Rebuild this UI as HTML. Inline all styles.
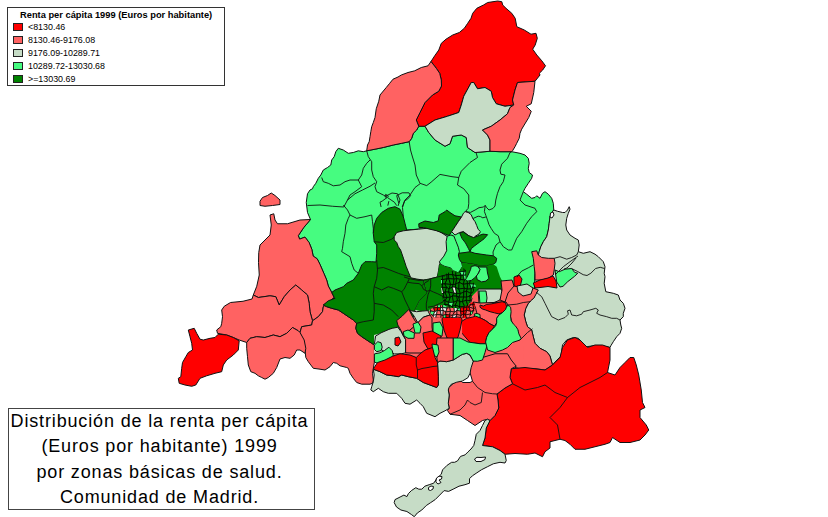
<!DOCTYPE html>
<html><head><meta charset="utf-8"><style>
html,body{margin:0;padding:0;background:#fff;}
body{width:828px;height:517px;overflow:hidden;position:relative;font-family:"Liberation Sans",sans-serif;}
#map{position:absolute;left:0;top:0;}
#leg{position:absolute;left:7px;top:7px;width:216px;height:77px;border:1px solid #333;background:#fff;}
#leg .t{position:absolute;left:12px;top:2px;font-weight:bold;font-size:9.3px;white-space:nowrap;color:#000;}
#leg .r{position:absolute;left:5px;height:8px;width:10px;}
#leg .r i{position:absolute;left:0;top:0;width:8px;height:6px;border:1px solid #222;}
#leg .r span{position:absolute;left:15px;top:-1px;font-size:8.9px;white-space:nowrap;color:#000;}
#box{position:absolute;left:8px;top:408px;width:305px;height:100px;border:1px solid #444;background:#fff;}
#box div{position:absolute;left:0;width:301px;text-align:center;font-size:18px;letter-spacing:0.85px;white-space:nowrap;color:#000;}
</style></head><body>
<svg id="map" width="828" height="517" viewBox="0 0 828 517">
<g stroke="#111" stroke-width="1" stroke-linejoin="round">
<polygon fill="#46fc80" points="338.3,148.3 343.3,150 348.3,153.3 353.3,152.5 358.3,150.8 363.3,151.7 366.7,150.8 375,149.2 383.3,147.5 393.3,145 401.7,143.3 409.2,141.7 411.7,138.3 413.3,133.3 416.7,130 418.75,126.25 425,126.25 428.75,132.5 435,140 445,146.25 450,143.75 452.5,136.25 461.25,135 466.25,137.5 467.5,147.5 475,152.5 490,151.25 500,151.7 511.7,151.7 520,153.3 525,155 528.3,158.3 529.2,163.3 528.3,168.3 529.2,172.5 532.5,175 531.7,178.3 528.3,183.3 525,188.3 523.3,191.7 526.7,194.2 531.7,198.3 535,197.5 536.7,195.8 540,198.3 542.5,193.3 545,191.7 548.3,194.2 551.7,198.3 553.3,203.3 553.75,210 551.7,212.5 550,216.7 549.2,223.3 548.3,230 546.7,236.7 543.3,241.7 540.8,246.7 539.2,251.7 536,270 537,290 505,300 440,300 380,290 350,286 331.75,292.5 328.3,286 326.7,280 324,273.7 319.9,264.2 317.2,258.8 313.2,256.1 311.8,249.3 309.1,242.5 305,237.1 299.6,239.1 298.3,235.7 303.7,227.6 310.5,219.5 307.5,212.5 306.25,202.5 307.5,193.75 310,190 312.5,188.75 313.3,186.7 315.8,183.3 318.3,178.3 320.8,175 323.3,170 327.5,167.5 330.8,165 331.7,160 334.2,156.7 335.8,151.7"/>
<polygon fill="#ff0000" points="497.7,1 501.8,1.7 502.7,5 506,8.3 511.8,13.3 515.2,18.3 516.8,26.7 524.3,30 531,34.2 536,33.3 537.3,38.3 535.2,45 532.7,49.2 536.8,55 541.8,60.8 545.5,65.8 542.7,70 539.3,73.3 540,75 535,81.25 517.5,82.5 515,90 512.5,100 513.75,105 505,106.25 496.25,103.75 492.5,97.5 491.25,91.25 485,87.5 477.5,88.75 473.75,82.5 471.25,82.5 463.75,96.25 461.25,105 458.75,112.5 447.5,116.25 435,120 425,126.25 418.75,126.25 416.25,120 420,112.5 425,102.5 432.5,95 438.75,91.25 441.5,86 441.3,80 439.7,73.3 436.3,68.3 431,61.5 434.7,55.8 438.8,50 441.3,43.3 446,39.2 452.7,35 459.3,32.5 464.3,28.3 467.7,23.3 471,18.3 472.7,13.3 476.8,8.3 483.5,5 487.7,2.5"/>
<polygon fill="#ff6262" points="431,61.5 428,65.8 421.3,67.5 414.7,70.8 408,72.5 401.3,75 398,77 393,79.2 389.7,83.3 386.25,87.5 380,95 378.75,101.25 376.25,108.75 375,117.5 373.3,122.5 371.7,126.7 370.8,131.7 370,136.7 369.2,141.7 367.5,145 366.7,150.8 375,149.2 383.3,147.5 393.3,145 401.7,143.3 409.2,141.7 411.7,138.3 413.3,133.3 416.7,130 418.75,126.25 416.25,120 420,112.5 425,102.5 432.5,95 438.75,91.25 441.5,86 441.3,80 439.7,73.3 436.3,68.3"/>
<polygon fill="#c6dcc6" points="425,126.25 435,120 447.5,116.25 458.75,112.5 461.25,105 463.75,96.25 471.25,82.5 473.75,82.5 477.5,88.75 485,87.5 491.25,91.25 492.5,97.5 496.25,103.75 505,106.25 513.75,105 510,107.5 507.5,113.75 500,120 491.25,126.25 482.5,130 487.5,135 490,140 490,151.25 475,152.5 467.5,147.5 466.25,137.5 461.25,135 452.5,136.25 450,143.75 445,146.25 435,140 428.75,132.5"/>
<polygon fill="#ff6262" points="517.5,82.5 535,81.25 533.75,92.5 531.25,103.75 526.25,106.25 531.25,111.25 528.75,117.5 524.2,125 521.7,129.2 520,133.3 519.2,138.3 516.7,143.3 515,146.7 512.5,150.8 511.7,151.7 500,151.7 490,151.25 490,140 487.5,135 482.5,130 491.25,126.25 500,120 507.5,113.75 510,107.5 513.75,105 512.5,100 515,90"/>
<polygon fill="#c6dcc6" points="553.75,210 557.5,211.25 562.5,212.5 565,212.5 567.5,210 569.2,206.7 570,209.2 568.3,213.3 566.7,218.3 565.8,225 566.7,230 570,235 575,238.3 578.3,240 579.2,245 578.3,251.7 583.3,253.3 590,251.7 595,254.2 598.3,256.7 603.3,261.7 605,266.7 604.2,273.3 605,276.7 604.2,283.3 605.8,291.7 613.3,293.3 618.3,295 620,300 623.3,303.3 625,308.3 623.3,313.3 623.3,316.7 620,320 620.8,325 621.7,328.3 620,333.3 616.7,336.7 613.3,341.7 610.8,345.8 610,347.5 606.7,346.7 600,345.8 593.3,345.8 586.7,346.7 583.3,343.3 578.3,338.3 573.3,337.5 566.7,340 562.5,345 561,356 555,362 552.5,365 550,356 546.7,351.7 540,348.3 535,343.3 533.3,336.7 531.7,330 527.5,326.7 525.8,321.7 524.2,315 525.8,308.3 528.3,303.3 531.7,300 534.2,297.5 535,270 539.2,251.7 540.8,246.7 543.3,241.7 546.7,236.7 548.3,230 549.2,223.3 550,216.7 551.7,212.5"/>
<polygon fill="#ff6262" points="531.7,251.7 536.7,250.8 538.3,255 541.7,257.5 548.3,258.3 554.2,258.3 555,263.3 554.2,270 553.3,275 548.3,278.3 541.7,280 535,280 535,273.3 534.2,266.7 533.3,258.3"/>
<polygon fill="#46fc80" points="555,270 559.2,271.7 565,269.2 571.6,268.5 574.7,272.4 577.8,273.2 574.7,276.2 567.7,281.7 563,286.3 560,287 556.7,282"/>
<polygon fill="#ff6262" points="500,287 512,285 520,287 533,288 538.3,290 534.2,297.5 531.7,300 528.3,303.3 525.8,308.3 524.2,315 525.8,321.7 527.5,326.7 531.7,330 533.3,336.7 535,343.3 540,348.3 546.7,351.7 550,356 552.5,365 545,370 535,368.75 525,370 515,367.5 511.25,360 507.5,353.75 510,350 517.5,345 520,340 520,332.5 512.5,325 510,315 507.5,305 500,300"/>
<polygon fill="#ff0000" points="533.3,283 540,280 548,278 553,276 556,281 557,288 548,286.5 540,287.5 535,288"/>
<polygon fill="#ff0000" points="514,277 519,275 522,279 520,287 514,286"/>
<polygon fill="#c6dcc6" points="517,286 527,284 533,288 531,294 523,296 518,292"/>
<polygon fill="#ff6262" stroke="none" points="478,338 522,330 524,362 478,364"/>
<polygon fill="#ff0000" points="511.25,368.75 525,367.5 535,368.75 545,370 552.5,365 560,357.5 562.5,347.5 567.5,340 575,337.5 580,340 587.5,347.5 595,345 602.5,345 610,347.5 610,360 607.5,372.5 615,375 620,367.5 625,362.5 630,357.5 633.75,357.5 636.25,365 638.75,375 641.25,390 642.5,402.5 645,407.5 640,410 640,417.5 646.25,425 648.75,430 645,435 640,440 630,442.5 620,442.5 612.5,437.5 610,442.5 605,444.25 595,446.75 585,449.25 575,449.25 570,444.25 565,440.5 560,439.25 550,441.75 550,448 545,451.75 542.5,456.75 535,453 527.5,454.25 515,453.5 505,454.25 500,450.5 492.5,446.75 482.5,445.5 485,438 486.25,428 490,420.5 495,415.5 498.75,408 498,400 497,394 505,388 512.5,383.75 510,377.5"/>
<polygon fill="#ff6262" points="447.5,386 450,386.7 453.3,383.3 460,380 462.5,382.5 470,382.5 472.5,381.25 470,372.5 470,365 475,360 482.5,357.5 495,353.75 507.5,353.75 511.25,360 516.25,366.25 511.25,368.75 510,377.5 512.5,383.75 505,388 497,394 498,400 498.75,408 495,415.5 490,420.5 487.5,419.25 482.5,420.5 475,425.5 467.5,420.5 460,415.5 450,414.25 447.5,410.5 449.2,408.3 448.3,403.3 449.2,395 448.3,390"/>
<polygon fill="#c6dcc6" points="373.3,369.2 380,371.7 386.7,375 393.3,375.8 398.3,376.7 401.7,375 408.3,376.7 416.7,378.3 423.3,382.5 430,385 436.7,387.5 438.3,385 438.3,376.7 437.5,362.5 440,361 446.7,361.7 453.3,360 462.2,354.4 466.7,353.3 470,355 473.3,361.1 471.1,367.8 470,373.3 467.8,377.8 462.2,381.1 456.7,382.2 451.1,384.4 448.9,387.8 448.3,390 449.2,395 448.3,403.3 449.2,408.3 445,410.8 440,413.3 435,416.7 426.7,413.3 423.3,406.7 420,403.3 416.7,400 410,404.2 405,403.3 401.7,398.3 396.7,393.3 388.3,393.3 383.3,391.7 378.3,388.3 373.3,391.7 370.8,390 371.7,386.7 373.3,381.7 374.2,375"/>
<polygon fill="#c6dcc6" points="487.5,419.25 485,420.5 482.5,425.5 480,430.5 476.25,434.25 475,440.5 473.75,445.5 471,449 468,451.9 465,454.9 460.5,456.4 457.5,460.9 454.6,462.3 451.6,462.3 447.1,465.3 442.6,469.8 441.2,474.3 436.7,478.7 433.7,483.2 429.2,484.7 424.8,486.2 421.8,489.2 418.8,489.2 415.8,487.7 411.4,490.6 408.4,493.6 406.9,496.6 403.9,495.1 400.9,496.6 398,498.1 395,499.6 394.2,502.6 396.5,507 400.9,510 406.9,511.5 411.4,514.5 414.3,516.7 417.3,513 421.8,510 426.3,505.5 430.7,502.6 435.2,499.6 439.7,495.1 444.1,490.6 448.6,491.4 453.1,489.2 459,486.2 465,484.7 469.5,483.2 469.5,478.7 472.4,475.8 476.9,472.8 481.4,469.8 487.3,466.8 493.3,463.8 500,462.3 505,463 506.25,460.5 505,454.25 500,450.5 492.5,446.75 482.5,445.5 485,438 486.25,428 490,420.5"/>
<polygon fill="#fff" points="474.5,459 477,457.3 481,457.5 485.5,457 485,459.5 481,461.5 476,461.5"/>
<polygon fill="#fff" points="436.5,478 439,476.2 442,476.5 441.5,479 439,480 441,482.5 438,484 435.8,482"/>
<polygon fill="#fff" points="428.5,487.5 431,486 433.5,486.5 433,489 430.5,490.5 428.5,489.8"/>
<polygon fill="#ff6262" points="270,215 273.75,213.75 275,220 277.5,223.75 287.5,223.75 300,220 310.5,219.5 303.7,227.6 298.3,235.7 299.6,239.1 305,237.1 309.1,242.5 311.8,249.3 313.2,256.1 317.2,258.8 319.9,264.2 324,273.7 326.7,280 328.3,286 331.75,292.5 334.25,297.5 330,301.7 323.3,306.7 322.5,311.7 318.3,316.7 312.5,320.8 310,311.7 309.2,303.3 307.5,295 301.7,290 295.8,285 290,290 284.2,296.7 279.2,305 275.8,296.7 270,295.8 258.3,297.5 253.3,295 256.75,286.25 259.25,275 258.5,262.5 258.75,252.5 260,245 265,240 270,235 271.25,225"/>
<polygon fill="#ff6262" points="253.3,295 258.3,297.5 270,295.8 275.8,296.7 279.2,305 284.2,296.7 290,290 295.8,285 301.7,290 307.5,295 309.2,303.3 310,311.7 312.5,320.8 311.7,325 301.7,326.7 300,332.5 298.3,330.8 292.5,327.5 286.7,333.3 280,336.7 273.3,335 265,337.5 256.7,336.7 250,338.3 246.7,342.5 239.2,340 233.3,337.5 226.7,335 217.5,333.3 216.7,330 220.8,326.7 221.7,323.3 222.5,316.7 221.7,310 224.25,306.25 230.5,302.5 243,301.25 252,299"/>
<polygon fill="#ff6262" points="334.25,297.5 330,301.7 323.3,305 326.7,306.7 331.7,308.3 338.3,310 343.3,313.3 348.3,316.7 353.3,320 356.7,323.3 355.8,328.3 357.5,333.3 361.7,336.7 366.7,340 371.7,343.3 374.4,345 374.4,362 372.5,373.3 373.3,380 372.5,383.3 370,384.2 361.7,384.2 356.7,382.5 353.3,378.3 350,373.3 348.3,368.3 346.7,367.5 340,365.8 336.7,363.3 333.3,362.5 330,366.7 325,370 320,369.2 313.3,368.3 310.8,365 308.3,361.7 305.8,357.5 305,350 303.3,341.7 300.8,335 300,332.5 301.7,326.7 311.7,325 312.5,320.8 318.3,316.7 322.5,311.7 323.3,306.7"/>
<polygon fill="#ff6262" points="246.7,342.5 250,338.3 256.7,336.7 265,337.5 273.3,335 280,336.7 286.7,333.3 292.5,327.5 298.3,330.8 300,332.5 304.2,340 305.8,348.3 305,353.3 300,350 296.7,350 294.2,355 290,358.3 285,357.5 280,359 276.7,367.5 273.3,373.3 268.3,377.5 265,379.2 261.7,377.5 258.3,375.8 255,373.3 250.8,371.7 248.3,365 247.5,356.7 246.7,348.3"/>
<polygon fill="#ff0000" points="188.3,330 194.2,328.3 196.7,333.3 200,339.2 203.3,340 210,338.3 215,337.5 218.3,334.2 226.7,335 233.3,337.5 239.2,340.8 238.3,350 233.3,355 226.7,360 223.3,365 221.7,371.7 215,373.3 206.7,375.8 200,378.3 195.8,385 191.7,386.3 185,385 179.2,383.3 178.3,378.3 180.8,376.7 181.7,368.3 182.5,362.5 185.8,356.7 188.3,352.5 192.5,350 191.7,343.3 190,336.7"/>
<polygon fill="#ff6262" points="260,201.25 262.5,197.5 267.5,195.5 271.25,193 275,195.5 280,200 280,204.5 272.5,205.5 265,206.25 260,205.5"/>
<polygon fill="#008200" points="334.25,297.5 331.75,292.5 335,290 343.3,286.7 346.7,283.3 353.3,280 358.3,273.3 361.7,265 365,261.7 371.7,261.7 376,262 376.7,253.3 376.7,245 374.2,241.7 373.3,233.3 374.2,225 376.7,218.3 381.7,212.5 388.3,208.3 395,206.7 400,209.2 403.3,216.7 405,223.3 406.7,230 420,229 440,231 446,240 445,260 440,268 436.7,273.3 430,278.3 423.3,280 427,293 420,300 415,310 410,330 400,335 390,330 375,336 374.4,345 371.7,343.3 366.7,340 361.7,336.7 357.5,333.3 355.8,328.3 356.7,323.3 353.3,320 348.3,316.7 343.3,313.3 338.3,310 331.7,308.3 326.7,306.7 323.3,305 328.3,300.8 335,298.3"/>
<polygon fill="#c6dcc6" points="394.2,236.7 396.7,232.5 403.3,230.8 410,230 418.3,229.2 426.7,228.3 433.3,229.2 440,231.7 445,235 448.75,237.5 447.5,245 446.7,255.4 442.7,259.5 439.3,264.9 438.6,270.3 437.2,277.1 430.5,278.7 423.7,280.1 416.9,279.1 410.8,277.8 408.8,273 406.1,266.3 403.4,258.1 400.6,250 398.3,246.7 396.7,242.5 394.2,240"/>
<polygon fill="#008200" points="418.75,223.75 425,221 433.3,222.5 438.3,220.8 439.2,215 445,211.7 446.7,210 450,212.5 455,215.8 461.5,217 458.3,221.7 455,226.7 451.7,231.7 449,235.5 443.3,233.3 436.7,230.8 430,229.2 423.3,227.5 419,227.5"/>
<polygon fill="#c6dcc6" points="461.5,217 463.5,213.1 465.1,211.6 468.1,212.4 471.2,214.7 472.8,218.6 475.1,221.7 476.7,225.5 478.2,229.4 480.5,231.7 479,234 475.1,236.3 473.6,238.7 470.5,237.1 466.6,234 463.5,231.7 459.6,232.5 455,235 451.7,231.7 455,226.7 458.3,221.7"/>
<polygon fill="#008200" points="459.7,233 463.2,231.8 467.9,235.3 473.7,237.6 479.5,235.3 483,234.1 487.6,234.7 484.1,238.8 479.5,242.2 474.8,245.7 471.4,248.5 470,251.7 468.3,248.3 465.5,243 462.1,238.6"/>
<polygon fill="#008200" points="458.3,253.3 465,252.5 470,251.7 475,253.3 486.7,255 493.3,255.8 496.7,258.3 495.8,262.5 493.3,264.2 486.7,265.8 480,265.8 473.3,264.2 466.7,263.3 461.7,262.5 458.3,259.2"/>
<polygon fill="#ff6262" stroke="none" points="420,311 460,310 466,303 472,296 478,290 505,290 510,320 495,345 440,350 420,340"/>
<polygon fill="#46fc80" points="447.2,236.1 451,235 453.9,236.1 456.1,241.7 458.3,247.2 459.4,251.7 458.3,255 459.4,259.4 461.7,262.8 462.5,266.4 460.3,270.1 458,273 455.9,271.6 452.9,270.8 450.7,267.9 444.8,266.4 440.4,264.2 439.4,261.7 443.9,256.1 446.7,250.6 446.1,241.7"/>
<polygon fill="#008200" stroke="none" points="423.7,280.1 430.5,278.7 437.2,277.1 438.6,270.3 439.3,264.9 440.4,264.2 444.8,266.4 450.7,267.9 452.9,270.8 455.9,271.6 458,273 460.3,270.1 462.5,266.4 461.7,262.8 466.7,263.3 473.3,264.2 480,265.8 486.7,265.8 493.3,264.2 496.7,266.7 498.3,271.7 500,276.7 503.3,283.3 504,290 478,290 472,296 466,303 460,310 447,312 437,311 420,311 415,310 420,300 427,293"/>
<polygon fill="#46fc80" points="471.3,266.4 475,265.7 477.9,266.4 480.1,269.4 478.6,273 476.4,276 474.2,278.2 471.3,280.4 467.6,281.1 465.4,279.6 466.9,277.4 469.1,273 470.6,269.4"/>
<polygon fill="#46fc80" points="478,267 486.7,267.1 487.5,273 488.9,278.2 486,281.1 481.6,281.9 477.2,279.6 476.4,276 478.6,273 480.1,269.4"/>
<polygon fill="#c6dcc6" points="478,289 490,289 501,289 503,293 500,300 493,303 485,305 479,304"/>
<polygon fill="#46fc80" points="479,291 486,291 487,298 486,305 480,305"/>
<polygon fill="#c6dcc6" points="463,296 468,295 472,298 471,302 464,302"/>
<polygon fill="#ff6262" points="501,281 512,280 514,286 508,293 505,302 500,300 502,290"/>
<polygon fill="#ff6262" points="473.3,302 480,303 506,302 508,305 505.6,309.4 502.2,312.8 498.9,315 496.7,318.3 496.7,322.8 494.4,326.1 490,323.9 485.6,320.6 481.1,318.3 475.6,316.1 476.7,312.8 475.6,308.3"/>
<polygon fill="#ff0000" points="480,305 483.3,306.1 486.7,304.4 491.1,303.9 496.7,302.8 502.2,301.7 505.6,302.8 506.7,307.2 505.6,310.6 502.2,312.8 498.9,313.9 494.4,312.8 490,311.7 485.6,310 482.2,308.9 480,307.2"/>
<polygon fill="#46fc80" points="474.4,313.9 477,313.5 480,314.5 480,318.3 476,317.5 474.4,316"/>
<polygon fill="#ff0000" points="456.7,326.1 461.1,321.7 466.7,318.3 472.2,317.2 475.6,316.1 481.1,318.3 485.6,320.6 490,323.9 494.4,326.1 492.2,329.4 488.9,332.8 486.7,337.2 485.6,342 485,343.75 480,343.75 470,342.5 464.4,336.1 458.9,329.4"/>
<polygon fill="#c6dcc6" stroke="none" points="374,335 405,327 406,356 374,357"/>
<polygon fill="#ff6262" stroke="none" points="405,318 462,318 462.2,354.4 453.3,360 446.7,361.7 440,361 437.5,362.5 405,362"/>
<polygon fill="#ff6262" points="396.7,320.6 402.2,316.1 408.9,309.4 412.2,316.1 415.6,321.7 417.8,322.8 412.2,328.3 407.8,331.7 403.3,335 401.1,330.6 397.8,325"/>
<polygon fill="#c6dcc6" points="410,310.6 416.7,311.7 422.2,311.1 427.8,310.6 430,315 423.3,317.2 417.8,322.8 414,316"/>
<polygon fill="#c6dcc6" points="374.4,343.9 375.6,336.1 381.1,332.8 388.9,329.4 392.2,328.3 397.8,327.2 401.1,331.7 403.3,336.1 405.6,339.4 405.6,347.2 405.6,352.8 401.1,353.9 394.4,353.9 388.9,351.7 384.4,351.7 381.1,349.4 377.8,347.2"/>
<polygon fill="#46fc80" points="374.4,345 377.8,341.7 381.1,342.8 382.2,347.2 381.1,350.6 376.7,351.7 374.4,349.4"/>
<polygon fill="#46fc80" points="374.4,362 374.4,353.9 380,352.8 384.4,350.6 388.9,347.2 392.2,350.6 393.3,355 392.2,358.3 390,362 382,365"/>
<polygon fill="#ff0000" points="395,338 399,337 401,342 398,346 395,345"/>
<polygon fill="#ff6262" points="403.3,335 407.8,331.7 412.2,328.3 417.8,322.8 423.3,317.2 430,315 432,318 432,327 433,335 432,345 428,353 420,353 410,353 405.6,352.8 405.6,339.4"/>
<polygon fill="#46fc80" points="403.3,331.7 408,330 414.4,333 414,338.3 408,338.3 404,336"/>
<polygon fill="#46fc80" points="413,324 418,322 421,327 420,333 415,333"/>
<polygon fill="#46fc80" points="433,323 440,322 443,328 442,336 437,338 433,334"/>
<polygon fill="#ff0000" points="423,333 432,331 441,336 440,343 436,349 428,349 424,342"/>
<polygon fill="#ff0000" points="443,312 452,312 460,312 462,320 460,330 458,337 455,340 447,338 444,330 442,320"/>
<polygon fill="#ff6262" points="437,338 447,338 453.3,338 453.3,360 446.7,361.7 440,361 437.5,362.5 436,350"/>
<polygon fill="#46fc80" points="432,344 438,345 439,352 437,357 433,355"/>
<polygon fill="#46fc80" points="453.3,338 460,338 468,342 480,343.75 487.5,343.75 485,352.5 482.5,360 477.5,361.25 473.3,361.1 470,355 466.7,353.3 462.2,354.4 453.3,360"/>
<polygon fill="#46fc80" points="506.7,306.1 508.9,305.6 510.6,307.2 511.1,311.7 510.6,316.1 511.1,320.6 513.3,323.9 515.6,326.1 517.8,329.4 518.9,333.9 521.1,338.3 520,340 512.5,342.5 507.5,347.5 502.5,350 495,352.5 487.5,350 485.6,342 486.7,337.2 488.9,332.8 492.2,329.4 495.6,326.1 496.7,322.8 496.7,318.3 498.9,315 502.2,312.8 505.6,309.4"/>
<polygon fill="#ff0000" points="375,366.25 377.5,362.5 385,360 392.5,356.25 400,353.75 410,355 416.25,357.5 420,353.75 425,350 432.5,347.5 435,357.5 437.5,362.5 438.3,376.7 438.3,385 436.7,387.5 430,385 423.3,382.5 416.7,378.3 408.3,376.7 401.7,375 398.3,376.7 393.3,375.8 386.7,375 380,371.7 373.3,369.2"/>
<polygon fill="#fff" points="550.5,213 553,212 554,215 552,218 550,217"/>
</g>
<clipPath id="mc"><polygon points="441,276 446,274 452,271 458,273 463,268 466,270 465.4,279.6 467.6,281.1 472,281 476,286 473,292 471,300 468,306 460,308 450,308 444,305 442,295 441,285"/></clipPath>
<g clip-path="url(#mc)" stroke="#000" stroke-width="0.75">
<polygon fill="#008200" points="438.883,266.158 441.741,265.319 441.349,270.305 440.039,270.309"/>
<polygon fill="#008200" points="440.039,270.309 441.349,270.305 442.354,275.704 439.019,275.031"/>
<polygon fill="#008200" points="439.019,275.031 442.354,275.704 442.547,279.57 438.227,279.231"/>
<polygon fill="#46fc80" points="438.227,279.231 442.547,279.57 442.499,284.029 439.318,284.373"/>
<polygon fill="#008200" points="439.318,284.373 442.499,284.029 442.395,287.414 438.006,287.481"/>
<polygon fill="#f0f0f0" points="438.006,287.481 442.395,287.414 443.719,293.709 437.997,293.217"/>
<polygon fill="#008200" points="437.997,293.217 443.719,293.709 443.334,297.349 439.474,295.591"/>
<polygon fill="#008200" points="439.474,295.591 443.334,297.349 442.047,300.486 440.181,302.427"/>
<polygon fill="#008200" points="440.181,302.427 442.047,300.486 441.983,304.465 439.377,305.905"/>
<polygon fill="#008200" points="439.377,305.905 441.983,304.465 443.152,309.737 438.161,308.72"/>
<polygon fill="#008200" points="438.161,308.72 443.152,309.737 443.349,314.1 439.07,313.237"/>
<polygon fill="#008200" points="441.741,265.319 447.122,266.917 444.776,269.634 441.349,270.305"/>
<polygon fill="#008200" points="441.349,270.305 444.776,269.634 447.005,274.721 442.354,275.704"/>
<polygon fill="#008200" points="442.354,275.704 447.005,274.721 447.177,278.929 442.547,279.57"/>
<polygon fill="#008200" points="442.547,279.57 447.177,278.929 444.954,283.942 442.499,284.029"/>
<polygon fill="#008200" points="442.499,284.029 444.954,283.942 446.682,287.392 442.395,287.414"/>
<polygon fill="#008200" points="442.395,287.414 446.682,287.392 444.989,291.958 443.719,293.709"/>
<polygon fill="#008200" points="443.719,293.709 444.989,291.958 447.137,297.481 443.334,297.349"/>
<polygon fill="#008200" points="443.334,297.349 447.137,297.481 445.064,300.53 442.047,300.486"/>
<polygon fill="#008200" points="442.047,300.486 445.064,300.53 445.023,304.438 441.983,304.465"/>
<polygon fill="#008200" points="441.983,304.465 445.023,304.438 446.728,309.149 443.152,309.737"/>
<polygon fill="#008200" points="443.152,309.737 446.728,309.149 446.145,314.261 443.349,314.1"/>
<polygon fill="#008200" points="447.122,266.917 448.742,266.612 448.596,270.779 444.776,269.634"/>
<polygon fill="#008200" points="444.776,269.634 448.596,270.779 448.56,274.591 447.005,274.721"/>
<polygon fill="#008200" points="447.005,274.721 448.56,274.591 448.797,278.592 447.177,278.929"/>
<polygon fill="#008200" points="447.177,278.929 448.797,278.592 450.654,284.401 444.954,283.942"/>
<polygon fill="#008200" points="444.954,283.942 450.654,284.401 449.02,289.016 446.682,287.392"/>
<polygon fill="#008200" points="446.682,287.392 449.02,289.016 448.791,292.121 444.989,291.958"/>
<polygon fill="#008200" points="444.989,291.958 448.791,292.121 450.368,297.174 447.137,297.481"/>
<polygon fill="#008200" points="447.137,297.481 450.368,297.174 448.521,302.492 445.064,300.53"/>
<polygon fill="#008200" points="445.064,300.53 448.521,302.492 448.797,304.962 445.023,304.438"/>
<polygon fill="#008200" points="445.023,304.438 448.797,304.962 450.168,309.548 446.728,309.149"/>
<polygon fill="#008200" points="446.728,309.149 450.168,309.548 449.001,313.274 446.145,314.261"/>
<polygon fill="#008200" points="448.742,266.612 451.996,266.218 452.37,270.667 448.596,270.779"/>
<polygon fill="#008200" points="448.596,270.779 452.37,270.667 452.686,274.676 448.56,274.591"/>
<polygon fill="#008200" points="448.56,274.591 452.686,274.676 454.125,279.157 448.797,278.592"/>
<polygon fill="#008200" points="448.797,278.592 454.125,279.157 453.183,284.568 450.654,284.401"/>
<polygon fill="#008200" points="450.654,284.401 453.183,284.568 452.223,287.087 449.02,289.016"/>
<polygon fill="#008200" points="449.02,289.016 452.223,287.087 454.001,293.239 448.791,292.121"/>
<polygon fill="#008200" points="448.791,292.121 454.001,293.239 452.386,295.981 450.368,297.174"/>
<polygon fill="#008200" points="450.368,297.174 452.386,295.981 453.587,302.363 448.521,302.492"/>
<polygon fill="#46fc80" points="448.521,302.492 453.587,302.363 452.257,306.788 448.797,304.962"/>
<polygon fill="#008200" points="448.797,304.962 452.257,306.788 453.936,310.273 450.168,309.548"/>
<polygon fill="#008200" points="450.168,309.548 453.936,310.273 452.808,313.354 449.001,313.274"/>
<polygon fill="#008200" points="451.996,266.218 455.37,267.221 455.859,270.94 452.37,270.667"/>
<polygon fill="#008200" points="452.37,270.667 455.859,270.94 455.905,275.655 452.686,274.676"/>
<polygon fill="#008200" points="452.686,274.676 455.905,275.655 456.736,278.655 454.125,279.157"/>
<polygon fill="#008200" points="454.125,279.157 456.736,278.655 455.705,284.182 453.183,284.568"/>
<polygon fill="#008200" points="453.183,284.568 455.705,284.182 455.444,287.283 452.223,287.087"/>
<polygon fill="#f0f0f0" points="452.223,287.087 455.444,287.283 456.645,293.33 454.001,293.239"/>
<polygon fill="#008200" points="454.001,293.239 456.645,293.33 456.78,296.22 452.386,295.981"/>
<polygon fill="#008200" points="452.386,295.981 456.78,296.22 457.523,300.419 453.587,302.363"/>
<polygon fill="#008200" points="453.587,302.363 457.523,300.419 455.316,304.991 452.257,306.788"/>
<polygon fill="#008200" points="452.257,306.788 455.316,304.991 456.367,308.84 453.936,310.273"/>
<polygon fill="#008200" points="453.936,310.273 456.367,308.84 455.707,314.054 452.808,313.354"/>
<polygon fill="#008200" points="455.37,267.221 460.177,265.027 459.662,271.432 455.859,270.94"/>
<polygon fill="#008200" points="455.859,270.94 459.662,271.432 461.177,275.214 455.905,275.655"/>
<polygon fill="#008200" points="455.905,275.655 461.177,275.214 460.468,279.423 456.736,278.655"/>
<polygon fill="#008200" points="456.736,278.655 460.468,279.423 459.119,282.373 455.705,284.182"/>
<polygon fill="#008200" points="455.705,284.182 459.119,282.373 458.819,289.083 455.444,287.283"/>
<polygon fill="#008200" points="455.444,287.283 458.819,289.083 460.492,293.622 456.645,293.33"/>
<polygon fill="#008200" points="456.645,293.33 460.492,293.622 458.827,297.16 456.78,296.22"/>
<polygon fill="#008200" points="456.78,296.22 458.827,297.16 459.956,301.809 457.523,300.419"/>
<polygon fill="#008200" points="457.523,300.419 459.956,301.809 459.556,306.918 455.316,304.991"/>
<polygon fill="#008200" points="455.316,304.991 459.556,306.918 458.959,310.122 456.367,308.84"/>
<polygon fill="#008200" points="456.367,308.84 458.959,310.122 460.581,315.457 455.707,314.054"/>
<polygon fill="#008200" points="460.177,265.027 464.081,266.538 464.219,271.496 459.662,271.432"/>
<polygon fill="#46fc80" points="459.662,271.432 464.219,271.496 463.137,275.289 461.177,275.214"/>
<polygon fill="#008200" points="461.177,275.214 463.137,275.289 464.482,280.18 460.468,279.423"/>
<polygon fill="#008200" points="460.468,279.423 464.482,280.18 463.297,284.367 459.119,282.373"/>
<polygon fill="#008200" points="459.119,282.373 463.297,284.367 464.391,288.192 458.819,289.083"/>
<polygon fill="#008200" points="458.819,289.083 464.391,288.192 463.806,292.089 460.492,293.622"/>
<polygon fill="#008200" points="460.492,293.622 463.806,292.089 463.703,297.087 458.827,297.16"/>
<polygon fill="#008200" points="458.827,297.16 463.703,297.087 462.471,301.568 459.956,301.809"/>
<polygon fill="#008200" points="459.956,301.809 462.471,301.568 464.709,306.603 459.556,306.918"/>
<polygon fill="#008200" points="459.556,306.918 464.709,306.603 464.059,309.705 458.959,310.122"/>
<polygon fill="#008200" points="458.959,310.122 464.059,309.705 464.076,314.614 460.581,315.457"/>
<polygon fill="#008200" points="464.081,266.538 466.854,266.893 465.98,271.061 464.219,271.496"/>
<polygon fill="#46fc80" points="464.219,271.496 465.98,271.061 465.848,275.067 463.137,275.289"/>
<polygon fill="#46fc80" points="463.137,275.289 465.848,275.067 466.953,278.488 464.482,280.18"/>
<polygon fill="#008200" points="464.482,280.18 466.953,278.488 467.486,283.593 463.297,284.367"/>
<polygon fill="#008200" points="463.297,284.367 467.486,283.593 467.281,289.11 464.391,288.192"/>
<polygon fill="#008200" points="464.391,288.192 467.281,289.11 466.402,291.11 463.806,292.089"/>
<polygon fill="#008200" points="463.806,292.089 466.402,291.11 466.513,297.27 463.703,297.087"/>
<polygon fill="#008200" points="463.703,297.087 466.513,297.27 466.271,300.328 462.471,301.568"/>
<polygon fill="#008200" points="462.471,301.568 466.271,300.328 467.994,306.022 464.709,306.603"/>
<polygon fill="#008200" points="464.709,306.603 467.994,306.022 466.858,311.034 464.059,309.705"/>
<polygon fill="#008200" points="464.059,309.705 466.858,311.034 466.576,314.838 464.076,314.614"/>
<polygon fill="#008200" points="466.854,266.893 469.761,265.818 471.25,271.494 465.98,271.061"/>
<polygon fill="#008200" points="465.98,271.061 471.25,271.494 471.432,274.495 465.848,275.067"/>
<polygon fill="#008200" points="465.848,275.067 471.432,274.495 470.704,278.716 466.953,278.488"/>
<polygon fill="#008200" points="466.953,278.488 470.704,278.716 469.609,283.591 467.486,283.593"/>
<polygon fill="#008200" points="467.486,283.593 469.609,283.591 471.326,288.921 467.281,289.11"/>
<polygon fill="#008200" points="467.281,289.11 471.326,288.921 471.017,293.588 466.402,291.11"/>
<polygon fill="#008200" points="466.402,291.11 471.017,293.588 469.953,295.927 466.513,297.27"/>
<polygon fill="#008200" points="466.513,297.27 469.953,295.927 470.379,300.606 466.271,300.328"/>
<polygon fill="#008200" points="466.271,300.328 470.379,300.606 469.799,305.373 467.994,306.022"/>
<polygon fill="#008200" points="467.994,306.022 469.799,305.373 470.808,309.984 466.858,311.034"/>
<polygon fill="#008200" points="466.858,311.034 470.808,309.984 470.048,315.295 466.576,314.838"/>
<polygon fill="#008200" points="469.761,265.818 475.181,265.875 472.958,269.163 471.25,271.494"/>
<polygon fill="#008200" points="471.25,271.494 472.958,269.163 474.913,273.59 471.432,274.495"/>
<polygon fill="#008200" points="471.432,274.495 474.913,273.59 474.511,279.386 470.704,278.716"/>
<polygon fill="#008200" points="470.704,278.716 474.511,279.386 473.532,284.37 469.609,283.591"/>
<polygon fill="#46fc80" points="469.609,283.591 473.532,284.37 472.822,287.039 471.326,288.921"/>
<polygon fill="#008200" points="471.326,288.921 472.822,287.039 473.889,291.145 471.017,293.588"/>
<polygon fill="#008200" points="471.017,293.588 473.889,291.145 474.808,296.107 469.953,295.927"/>
<polygon fill="#008200" points="469.953,295.927 474.808,296.107 473.12,300.004 470.379,300.606"/>
<polygon fill="#008200" points="470.379,300.606 473.12,300.004 474.316,305.459 469.799,305.373"/>
<polygon fill="#008200" points="469.799,305.373 474.316,305.459 474.318,310.409 470.808,309.984"/>
<polygon fill="#008200" points="470.808,309.984 474.318,310.409 474.753,315.61 470.048,315.295"/>
<polygon fill="#008200" points="475.181,265.875 477.952,265.206 477.439,269.552 472.958,269.163"/>
<polygon fill="#008200" points="472.958,269.163 477.439,269.552 476.301,274.727 474.913,273.59"/>
<polygon fill="#008200" points="474.913,273.59 476.301,274.727 478.025,278.353 474.511,279.386"/>
<polygon fill="#008200" points="474.511,279.386 478.025,278.353 476.942,283.193 473.532,284.37"/>
<polygon fill="#46fc80" points="473.532,284.37 476.942,283.193 477.983,288.054 472.822,287.039"/>
<polygon fill="#008200" points="472.822,287.039 477.983,288.054 477.78,293.076 473.889,291.145"/>
<polygon fill="#008200" points="473.889,291.145 477.78,293.076 477.239,297.571 474.808,296.107"/>
<polygon fill="#008200" points="474.808,296.107 477.239,297.571 478.495,300.11 473.12,300.004"/>
<polygon fill="#008200" points="473.12,300.004 478.495,300.11 478.56,306.187 474.316,305.459"/>
<polygon fill="#008200" points="474.316,305.459 478.56,306.187 476.593,309.877 474.318,310.409"/>
<polygon fill="#008200" points="474.318,310.409 476.593,309.877 477.808,315.482 474.753,315.61"/>
<polygon fill="#008200" points="477.952,265.206 480.698,266.182 481.929,271.183 477.439,269.552"/>
<polygon fill="#008200" points="477.439,269.552 481.929,271.183 482.088,274.704 476.301,274.727"/>
<polygon fill="#008200" points="476.301,274.727 482.088,274.704 481.371,278.421 478.025,278.353"/>
<polygon fill="#008200" points="478.025,278.353 481.371,278.421 481.544,284.44 476.942,283.193"/>
<polygon fill="#c6dcc6" points="476.942,283.193 481.544,284.44 481.347,288.575 477.983,288.054"/>
<polygon fill="#008200" points="477.983,288.054 481.347,288.575 480.298,293.456 477.78,293.076"/>
<polygon fill="#46fc80" points="477.78,293.076 480.298,293.456 482.177,298.06 477.239,297.571"/>
<polygon fill="#008200" points="477.239,297.571 482.177,298.06 481.091,301.968 478.495,300.11"/>
<polygon fill="#008200" points="478.495,300.11 481.091,301.968 480.56,306.682 478.56,306.187"/>
<polygon fill="#008200" points="478.56,306.187 480.56,306.682 481.872,309.6 476.593,309.877"/>
<polygon fill="#008200" points="476.593,309.877 481.872,309.6 479.978,314.244 477.808,315.482"/>
</g>
<clipPath id="mc2"><polygon points="429,310 437,305.5 444,305 450,308 460,308 468,306 472,302 475,304 474,312 468,318 458,318 446,318 432,317"/></clipPath>
<g clip-path="url(#mc2)" stroke="#000" stroke-width="0.7">
<polygon fill="#f0f0f0" points="426.271,300.396 430.533,300.007 430.764,305.102 427.786,305.4"/>
<polygon fill="#c6dcc6" points="427.786,305.4 430.764,305.102 429.564,307.706 427.986,306.974"/>
<polygon fill="#c6dcc6" points="427.986,306.974 429.564,307.706 430.853,311.007 425.988,312.121"/>
<polygon fill="#c6dcc6" points="425.988,312.121 430.853,311.007 429.596,313.917 426.912,315.14"/>
<polygon fill="#c6dcc6" points="426.912,315.14 429.596,313.917 430.329,317.011 426.6,317.933"/>
<polygon fill="#c6dcc6" points="426.6,317.933 430.329,317.011 431.208,322.015 427.035,321.257"/>
<polygon fill="#f0f0f0" points="430.533,300.007 434.073,301.736 433.899,304.205 430.764,305.102"/>
<polygon fill="#46fc80" points="430.764,305.102 433.899,304.205 433.83,307.809 429.564,307.706"/>
<polygon fill="#ff6262" points="429.564,307.706 433.83,307.809 434.715,311.822 430.853,311.007"/>
<polygon fill="#46fc80" points="430.853,311.007 434.715,311.822 433.042,315.439 429.596,313.917"/>
<polygon fill="#ff6262" points="429.596,313.917 433.042,315.439 434.165,318.567 430.329,317.011"/>
<polygon fill="#46fc80" points="430.329,317.011 434.165,318.567 434.327,321.207 431.208,322.015"/>
<polygon fill="#f0f0f0" points="434.073,301.736 437.816,301.775 437.35,304.945 433.899,304.205"/>
<polygon fill="#ff6262" points="433.899,304.205 437.35,304.945 437.513,307.608 433.83,307.809"/>
<polygon fill="#ff0000" points="433.83,307.809 437.513,307.608 437.414,310.324 434.715,311.822"/>
<polygon fill="#f0f0f0" points="434.715,311.822 437.414,310.324 436.534,314.536 433.042,315.439"/>
<polygon fill="#f0f0f0" points="433.042,315.439 436.534,314.536 435.769,317.705 434.165,318.567"/>
<polygon fill="#46fc80" points="434.165,318.567 435.769,317.705 437.22,321.653 434.327,321.207"/>
<polygon fill="#46fc80" points="437.816,301.775 439.581,301.907 440.584,304.069 437.35,304.945"/>
<polygon fill="#46fc80" points="437.35,304.945 440.584,304.069 440.569,307.942 437.513,307.608"/>
<polygon fill="#ff0000" points="437.513,307.608 440.569,307.942 440.276,310.975 437.414,310.324"/>
<polygon fill="#ff6262" points="437.414,310.324 440.276,310.975 441.355,314.89 436.534,314.536"/>
<polygon fill="#ff6262" points="436.534,314.536 441.355,314.89 440.665,318.534 435.769,317.705"/>
<polygon fill="#f0f0f0" points="435.769,317.705 440.665,318.534 441.309,320.427 437.22,321.653"/>
<polygon fill="#46fc80" points="439.581,301.907 443.767,301.487 442.938,304.199 440.584,304.069"/>
<polygon fill="#ff6262" points="440.584,304.069 442.938,304.199 442.462,307.179 440.569,307.942"/>
<polygon fill="#f0f0f0" points="440.569,307.942 442.462,307.179 443.213,310.381 440.276,310.975"/>
<polygon fill="#f0f0f0" points="440.276,310.975 443.213,310.381 442.925,315.428 441.355,314.89"/>
<polygon fill="#ff6262" points="441.355,314.89 442.925,315.428 443.616,318.016 440.665,318.534"/>
<polygon fill="#ff0000" points="440.665,318.534 443.616,318.016 444.579,321.539 441.309,320.427"/>
<polygon fill="#ff0000" points="443.767,301.487 447.944,301.282 447.515,303.535 442.938,304.199"/>
<polygon fill="#46fc80" points="442.938,304.199 447.515,303.535 447.025,308.329 442.462,307.179"/>
<polygon fill="#f0f0f0" points="442.462,307.179 447.025,308.329 445.749,312.078 443.213,310.381"/>
<polygon fill="#ff6262" points="443.213,310.381 445.749,312.078 446.014,314.542 442.925,315.428"/>
<polygon fill="#46fc80" points="442.925,315.428 446.014,314.542 446.036,317.991 443.616,318.016"/>
<polygon fill="#ff0000" points="443.616,318.016 446.036,317.991 447.057,320.499 444.579,321.539"/>
<polygon fill="#ff0000" points="447.944,301.282 451.129,300.838 450.162,304.6 447.515,303.535"/>
<polygon fill="#ff6262" points="447.515,303.535 450.162,304.6 449.789,307.363 447.025,308.329"/>
<polygon fill="#ff6262" points="447.025,308.329 449.789,307.363 450.458,311.324 445.749,312.078"/>
<polygon fill="#ff6262" points="445.749,312.078 450.458,311.324 449.6,315.042 446.014,314.542"/>
<polygon fill="#ff0000" points="446.014,314.542 449.6,315.042 449.629,317.009 446.036,317.991"/>
<polygon fill="#ff0000" points="446.036,317.991 449.629,317.009 449.511,320.467 447.057,320.499"/>
<polygon fill="#46fc80" points="451.129,300.838 452.607,301.519 453.146,305.211 450.162,304.6"/>
<polygon fill="#ff6262" points="450.162,304.6 453.146,305.211 453.974,306.882 449.789,307.363"/>
<polygon fill="#ff6262" points="449.789,307.363 453.974,306.882 454.529,312.107 450.458,311.324"/>
<polygon fill="#ff6262" points="450.458,311.324 454.529,312.107 452.415,315.427 449.6,315.042"/>
<polygon fill="#ff6262" points="449.6,315.042 452.415,315.427 453.237,317.954 449.629,317.009"/>
<polygon fill="#ff6262" points="449.629,317.009 453.237,317.954 454.493,320.877 449.511,320.467"/>
<polygon fill="#46fc80" points="452.607,301.519 456.754,301.892 457.215,304.335 453.146,305.211"/>
<polygon fill="#ff0000" points="453.146,305.211 457.215,304.335 457.806,308.446 453.974,306.882"/>
<polygon fill="#f0f0f0" points="453.974,306.882 457.806,308.446 456.939,310.415 454.529,312.107"/>
<polygon fill="#ff6262" points="454.529,312.107 456.939,310.415 456.987,314.51 452.415,315.427"/>
<polygon fill="#f0f0f0" points="452.415,315.427 456.987,314.51 456.015,317.086 453.237,317.954"/>
<polygon fill="#f0f0f0" points="453.237,317.954 456.015,317.086 456.765,320.634 454.493,320.877"/>
<polygon fill="#f0f0f0" points="456.754,301.892 459.868,301.342 459.897,303.915 457.215,304.335"/>
<polygon fill="#f0f0f0" points="457.215,304.335 459.897,303.915 460.19,307.636 457.806,308.446"/>
<polygon fill="#46fc80" points="457.806,308.446 460.19,307.636 460.642,311.263 456.939,310.415"/>
<polygon fill="#ff6262" points="456.939,310.415 460.642,311.263 461.15,315.523 456.987,314.51"/>
<polygon fill="#ff6262" points="456.987,314.51 461.15,315.523 460.541,317.466 456.015,317.086"/>
<polygon fill="#ff6262" points="456.015,317.086 460.541,317.466 459.108,322.201 456.765,320.634"/>
<polygon fill="#f0f0f0" points="459.868,301.342 463.957,301.255 462.975,303.934 459.897,303.915"/>
<polygon fill="#ff0000" points="459.897,303.915 462.975,303.934 463.727,307.932 460.19,307.636"/>
<polygon fill="#ff0000" points="460.19,307.636 463.727,307.932 463.512,311.472 460.642,311.263"/>
<polygon fill="#ff0000" points="460.642,311.263 463.512,311.472 463.885,313.967 461.15,315.523"/>
<polygon fill="#ff6262" points="461.15,315.523 463.885,313.967 462.72,318.979 460.541,317.466"/>
<polygon fill="#46fc80" points="460.541,317.466 462.72,318.979 464.26,322.173 459.108,322.201"/>
<polygon fill="#ff0000" points="463.957,301.255 465.536,300.104 466.071,304.247 462.975,303.934"/>
<polygon fill="#ff0000" points="462.975,303.934 466.071,304.247 466.885,306.989 463.727,307.932"/>
<polygon fill="#ff0000" points="463.727,307.932 466.885,306.989 466.696,310.328 463.512,311.472"/>
<polygon fill="#ff0000" points="463.512,311.472 466.696,310.328 465.645,314.96 463.885,313.967"/>
<polygon fill="#ff0000" points="463.885,313.967 465.645,314.96 466.717,318.267 462.72,318.979"/>
<polygon fill="#46fc80" points="462.72,318.979 466.717,318.267 466.307,321.356 464.26,322.173"/>
<polygon fill="#ff0000" points="465.536,300.104 469.232,300.681 470.466,305.091 466.071,304.247"/>
<polygon fill="#ff0000" points="466.071,304.247 470.466,305.091 468.917,307.024 466.885,306.989"/>
<polygon fill="#ff0000" points="466.885,306.989 468.917,307.024 470.614,311.452 466.696,310.328"/>
<polygon fill="#ff6262" points="466.696,310.328 470.614,311.452 470.521,314.015 465.645,314.96"/>
<polygon fill="#ff6262" points="465.645,314.96 470.521,314.015 469.725,317.506 466.717,318.267"/>
<polygon fill="#ff0000" points="466.717,318.267 469.725,317.506 470.616,321.133 466.307,321.356"/>
<polygon fill="#ff0000" points="469.232,300.681 473.555,301.998 472.797,304.499 470.466,305.091"/>
<polygon fill="#ff6262" points="470.466,305.091 472.797,304.499 473.769,308.658 468.917,307.024"/>
<polygon fill="#ff6262" points="468.917,307.024 473.769,308.658 473.033,310.933 470.614,311.452"/>
<polygon fill="#46fc80" points="470.614,311.452 473.033,310.933 472.269,315.365 470.521,314.015"/>
<polygon fill="#ff0000" points="470.521,314.015 472.269,315.365 472.226,317.149 469.725,317.506"/>
<polygon fill="#ff0000" points="469.725,317.506 472.226,317.149 473.348,321.369 470.616,321.133"/>
<polygon fill="#ff0000" points="473.555,301.998 476.928,300.59 477.136,303.535 472.797,304.499"/>
<polygon fill="#ff0000" points="472.797,304.499 477.136,303.535 475.838,308.131 473.769,308.658"/>
<polygon fill="#ff0000" points="473.769,308.658 475.838,308.131 475.534,310.8 473.033,310.933"/>
<polygon fill="#ff6262" points="473.033,310.933 475.534,310.8 477.02,314.996 472.269,315.365"/>
<polygon fill="#ff6262" points="472.269,315.365 477.02,314.996 475.999,317.272 472.226,317.149"/>
<polygon fill="#ff0000" points="472.226,317.149 475.999,317.272 476.172,321.861 473.348,321.369"/>
<polygon fill="#ff0000" points="476.928,300.59 479.491,300.219 480.283,304.541 477.136,303.535"/>
<polygon fill="#ff0000" points="477.136,303.535 480.283,304.541 480.767,308.697 475.838,308.131"/>
<polygon fill="#ff0000" points="475.838,308.131 480.767,308.697 480.755,311.074 475.534,310.8"/>
<polygon fill="#ff6262" points="475.534,310.8 480.755,311.074 480.5,314.202 477.02,314.996"/>
<polygon fill="#ff0000" points="477.02,314.996 480.5,314.202 479.379,317.795 475.999,317.272"/>
<polygon fill="#ff6262" points="475.999,317.272 479.379,317.795 480.804,322.205 476.172,321.861"/>
</g>
<g fill="none" stroke="#111" stroke-width="0.9" stroke-linejoin="round">
<polyline points="409.2,141.7 410.5,150 412.5,157 415,165 416.25,175 420,183.3 426.7,185.6 431.1,182.2 440,174.4 452,176.7 458.75,177.5 461.25,171.25 470,162.5 477.5,157.5 476,152.5"/>
<polyline points="458.75,177.5 457.5,185 463.75,188.75 468.75,195 468.75,203.75 468.1,208.5 466.6,210 465.8,211.6"/>
<polyline points="465.8,211.6 470.5,212.4 475.1,210 479,207.7 483.6,207 485.2,205.4 486.7,207.7 489,210 492.9,208.5 495,206 495.8,200 497.5,193.3 500,186.7 503.3,181.7 505,175 500.8,174.2 500,170 501.7,164.2 507.5,158.3 510,152.5 511.7,151.7"/>
<polyline points="485.2,205.4 484.4,211.6 485.9,215.5 487.5,220.1 489,224.7 491.3,228.6 494.4,233.3 498.3,235.8 500,241.7 503.3,246.7 508.3,250 511.7,250 516.7,238.3 521.7,231.7 526.7,223.3 531.7,216.7 536.7,211.7 535,208.3 525,205 520,200 523.3,191.7"/>
<polyline points="500,241.7 496,245 493,252 493.3,255.8"/>
<polyline points="366.7,150.8 368.3,156.7 371.7,161.7 371.7,170 373.3,176.7 376.7,181.7 375,186.7 376.7,191.7 383.3,195 387,197"/>
<polyline points="370,160 366.7,163.3 363.3,168.3 361.7,175 358.3,180 350,180 345,181.7 340,185 333.3,185.8 328.3,183.3 323.3,181.7 321.7,177.5"/>
<polyline points="358.3,180 361.7,186.7 355,191.7 350,195 347.5,200"/>
<polyline points="307.5,205.5 320,205 332.5,206.25 343.75,207 347.5,200 355,193.75 362.5,190 370,186.25 375,183"/>
<polyline points="343.3,205 347.5,210 350,215 348.3,218.3 345.8,225 345,233.3 343.3,241.7 342.5,248.3 341.7,251.7 350,256.7 351.7,263.3 354.2,270 358.3,273.3"/>
<polyline points="350,215 356.7,218.3 365,216.7 371.7,215 372.5,221.7 373.3,228.3 373.3,233.3"/>
<polyline points="420,183.75 415,187.5 410,195 405,200 402.5,207.5 403.3,216.7"/>
<polyline points="386,196 392,193 397.5,193.75 400,200 398,206"/>
<polyline points="554.2,258.3 560,256.7 566.7,259.2 571.7,257.5 576.7,255 578.3,251.7"/>
<polyline points="578,256 570,261.7 563.3,266.7 558.3,271.7 555,275"/>
<polyline points="576,258 572,263 567,268 564,269"/>
<polyline points="571.6,268.5 577.8,271.6 583.2,274.7 587,275.5 590.9,273.2 595.6,268.5 600.2,267.3 604.5,268.5"/>
<polyline points="536,292 541.7,296.7 545,303.3 548.3,310 551.7,316.7 558.3,320 565,317.5 568.3,314.2 567.5,310.8 570,310 571.7,315 576.7,315.8 581.7,314.2 583.3,311.7 590,310 595.8,308.3 598.3,310 596.7,313.3 600,315 606.7,316.7 611.7,318.3 616.7,318.3 620,320"/>
<polyline points="512.5,383.75 525,390 537.5,387.5 545,385 555,392.5 567.5,397.5 580,387.5 590,382.5 600,377.5 607.5,372.5"/>
<polyline points="567.5,397.5 560,407.5 550,417.5 557.5,425 558.75,432 560,439.25"/>
<polyline points="472.5,381.25 477.5,387.5 485,392.5 492.5,393.75 497,394"/>
<polyline points="482.5,392.5 481.25,402.5 475,405 470,402.5 467.5,400 465,405 460,410 450,414.25"/>
<polyline points="507.5,305 516.7,304.2 523.3,302.5 530,301.7"/>
<polyline points="520,340 527.5,332.5 532.5,328.75"/>
<polyline points="376.7,260 377.5,270 376.7,278.3 374.2,286.7 373.3,293.3 374.2,303.3 374.2,311.7 373.3,320 363.3,321.7 356.7,323.3"/>
<polyline points="374.2,286.7 381.7,290 388.3,286.7 393.3,288.3 401.7,291.7 404,289.4"/>
<polyline points="377.5,268.3 383.3,267.5 390,270 398.3,273.3 403.3,275 410,276.7"/>
<polyline points="374.2,303.3 383.3,305 391.7,310 398.3,316.7"/>
<polyline points="401.7,291.7 405,300 408.3,306.7 410,310"/>
<polyline points="374.2,241.7 383.3,242.5 391.7,239.2 394.2,237"/>
<polyline points="385.6,194.4 387.8,195.6 388.3,196.7 386.7,197.8 385,196.7 385.6,194.4"/>
<polyline points="387.8,197.8 391.1,200 394.4,202.2 396.7,205.6"/>
<polyline points="386.7,197.8 382.2,201.1 380,202.2 381.1,207"/>
<polyline points="388.9,201.1 387.8,205.6"/>
<polyline points="396.7,195.6 402.2,192.8 408.9,192.8 410.6,195.6 407.8,198.9 404.4,201.1 402.2,207"/>
<polyline points="396.7,195.6 397.8,200 398.9,203.3"/>
<polyline points="416.25,357.5 416.25,365 417.5,370 417.5,378"/>
<polyline points="417.5,370 422,368.5 428,367.5 433,366.5 438,366"/>
<polyline points="533.3,265 528.3,267.8 521.7,271.1 518.3,275 517.2,277.2"/>
<polyline points="472.8,218.6 478.2,216.2 480.5,216.6 482.8,217.8 485.9,217"/>
<polyline points="404,276.9 409.3,278.7 419.1,280.5 428.9,279.6 430.7,278.7 437.8,276.9 442.3,276 445,276"/>
<polyline points="409.3,278.7 407.6,282.2 405.8,285.8 404,289.4"/>
<polyline points="407.6,282.2 412.9,283.1 419.1,283.6 421.8,285.8 423.6,289.4 427.2,291.2 429.8,290.3"/>
<polyline points="421.8,285.8 424.5,283.1 428.9,280.5"/>
<polyline points="430.7,278.7 430.7,285.8 429.8,290.3 433.4,292 437.8,293.8 441.4,295.6 445,297.4"/>
<polyline points="429.8,290.3 428,294.7 427.2,299.2 426.3,303.6 426.3,308.1 427.2,310.7"/>
<polyline points="428,307.2 433.4,306.3 439.6,303.6 443.2,301.8 445,298.3"/>
</g>
</svg>
<div id="leg">
<div class="t">Renta per cápita 1999 (Euros por habitante)</div>
<div class="r" style="top:14.5px"><i style="background:#ff0000"></i><span>&lt;8130.46</span></div>
<div class="r" style="top:27.5px"><i style="background:#ff6262"></i><span>8130.46-9176.08</span></div>
<div class="r" style="top:40.5px"><i style="background:#c6dcc6"></i><span>9176.09-10289.71</span></div>
<div class="r" style="top:53.5px"><i style="background:#46fc80"></i><span>10289.72-13030.68</span></div>
<div class="r" style="top:66.5px"><i style="background:#008200"></i><span>&gt;=13030.69</span></div>
</div>
<div id="box">
<div style="top:2px">Distribución de la renta per cápita</div>
<div style="top:27.3px">(Euros por habitante) 1999</div>
<div style="top:52.6px">por zonas básicas de salud.</div>
<div style="top:77.9px">Comunidad de Madrid.</div>
</div>
</body></html>
